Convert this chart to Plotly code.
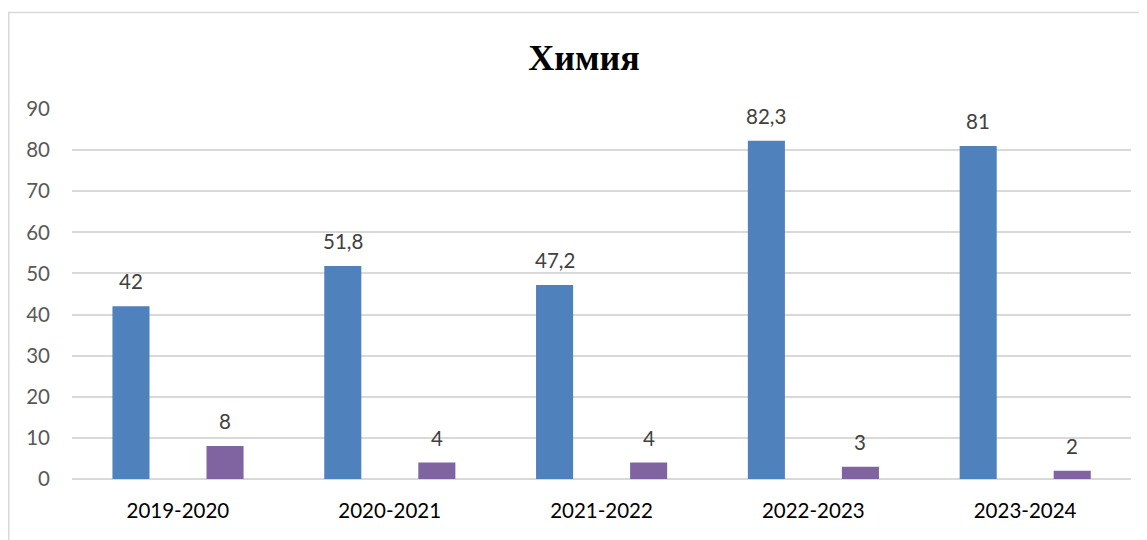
import plotly.graph_objects as go

categories = ["2019-2020", "2020-2021", "2021-2022", "2022-2023", "2023-2024"]
series_a = [42, 51.8, 47.2, 82.3, 81]
series_b = [8, 4, 4, 3, 2]
labels_a = ["42", "51,8", "47,2", "82,3", "81"]
labels_b = ["8", "4", "4", "3", "2"]

BLUE = "#4F81BD"
PURPLE = "#8064A2"
BAR_W = 0.175
OFF_A = -0.309
OFF_B = 0.135
FS = 20.5

# page body has an 8px default margin; figure is sized to compensate
W, H = 1139, 532
L, R, T, B = 64, 16, 101, 61
PW, PH = W - L - R, H - T - B

fig = go.Figure()
fig.add_trace(go.Bar(x=categories, y=series_a, width=BAR_W, offset=OFF_A,
                     marker=dict(color=BLUE, line=dict(width=0)), hoverinfo="y"))
fig.add_trace(go.Bar(x=categories, y=series_b, width=BAR_W, offset=OFF_B,
                     marker=dict(color=PURPLE, line=dict(width=0)), hoverinfo="y"))

annos = []
for i, (v, t) in enumerate(zip(series_a, labels_a)):
    annos.append(dict(x=i + OFF_A + BAR_W / 2, y=v, text=t, xref="x", yref="y",
                      showarrow=False, yanchor="bottom", yshift=11,
                      font=dict(family="Lato", size=FS, color="#404040")))
for i, (v, t) in enumerate(zip(series_b, labels_b)):
    annos.append(dict(x=i + OFF_B + BAR_W / 2, y=v, text=t, xref="x", yref="y",
                      showarrow=False, yanchor="bottom", yshift=11,
                      font=dict(family="Lato", size=FS, color="#404040")))

fig.update_layout(
    width=W, height=H,
    margin=dict(l=L, r=R, t=T, b=B),
    paper_bgcolor="white", plot_bgcolor="white",
    barmode="overlay",
    showlegend=False,
    title=dict(text="<b>Химия</b>", x=576 / W, xref="container", xanchor="center",
               y=1 - 49 / H, yref="container", yanchor="middle",
               font=dict(family="Liberation Serif", size=36, color="black")),
    annotations=annos,
    shapes=[dict(type="rect", xref="paper", yref="paper",
                 x0=(0.75 - L) / PW, x1=(W + 20 - L) / PW,
                 y0=-(B + 30) / PH, y1=(PH + T - 4.5) / PH,
                 line=dict(color="#D9D9D9", width=1.5), fillcolor="rgba(0,0,0,0)", layer="below")],
)
fig.update_xaxes(type="category", showgrid=False, showline=False, zeroline=False,
                 ticks="", ticklabelstandoff=17,
                 tickfont=dict(family="Lato", size=FS, color="#000000"))
fig.update_yaxes(range=[0, 90], dtick=10, showgrid=True, gridcolor="#D9D9D9", gridwidth=1.5,
                 zeroline=True, zerolinecolor="#D9D9D9", zerolinewidth=1.5,
                 showline=False, ticks="", ticklabelstandoff=21,
                 tickfont=dict(family="Lato", size=FS, color="#595959"))

fig.write_html("out.html")
